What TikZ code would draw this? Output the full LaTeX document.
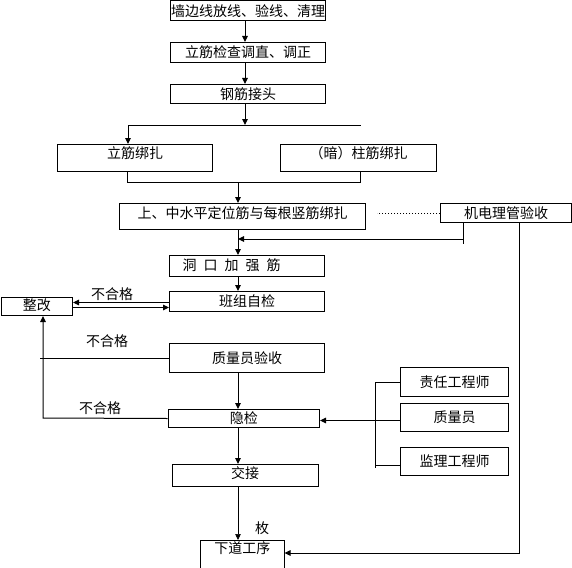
\documentclass[tikz,border=0pt]{standalone}
\usepackage{fontspec}
\newfontfamily\cjk{Noto Sans CJK SC}
\usetikzlibrary{arrows.meta}

\begin{document}
\begin{tikzpicture}[x=1pt,y=-1pt,line width=1pt,
 box/.style={draw,anchor=north west,inner sep=0pt,font=\cjk\fontsize{14}{14}\selectfont},
 wide/.style={minimum width=155pt},
 lbl/.style={inner sep=0pt,font=\cjk\fontsize{14}{14}\selectfont},
 arr/.style={-{Triangle[length=6pt,width=5.5pt]}}]
 \useasboundingbox (0,0) rectangle (572,567);
 \node[box,wide,text height=15.3pt,text depth=4.2pt] (wall) at (170,0.5) {墙边线放线、验线、清理};
 \node[box,wide,text height=15.3pt,text depth=4.7pt] (check) at (170,42) {立筋检查调直、调正};
 \node[box,wide,text height=15.3pt,text depth=3.7pt] (joint) at (170,84) {钢筋接头};
 \node[box,wide,text height=14.3pt,text depth=12.7pt] (li) at (57,144) {立筋绑扎};
 \node[box,minimum width=156pt,text height=14.3pt,text depth=12.7pt] (an) at (280,144) {（暗）柱筋绑扎};
 \node[box,minimum width=246pt,text height=15.3pt,text depth=10.7pt] (level) at (119,203) {上、中水平定位筋与每根竖筋绑扎};
 \node[box,minimum width=131pt,text height=15.3pt,text depth=3.7pt] (mep) at (440,203) {机电理管验收};
 \node[box,text width=155pt,align=left,text height=15.3pt,text depth=5.7pt] (hole) at (169,255)
  {\hspace*{13pt}洞\hspace{7pt}口\hspace{7pt}加\hspace{7pt}强\hspace{7pt}筋};
 \node[box,wide,text height=15.3pt,text depth=4.7pt] (self) at (169,291) {班组自检};
 \node[box,minimum width=71.5pt,text height=13.3pt,text depth=4.7pt] (fix) at (0.5,297) {整改};
 \node[box,wide,text height=20.3pt,text depth=8.7pt] (qc) at (169,343) {质量员验收};
 \node[box,minimum width=151.5pt,text height=14.3pt,text depth=3.7pt] (hidden) at (167.5,409) {隐检};
 \node[box,minimum width=108pt,text height=19.8pt,text depth=9.2pt] (resp) at (400,367) {责任工程师};
 \node[box,minimum width=108pt,text height=19.3pt,text depth=8.7pt] (qcm) at (400,403) {质量员};
 \node[box,minimum width=108pt,text height=19.3pt,text depth=8.7pt] (sup) at (400,447) {监理工程师};
 \node[box,minimum width=146pt,text height=14.3pt,text depth=7.7pt] (hand) at (171.5,464) {交接};
 \node[box,minimum width=83.5pt,text height=13.3pt,text depth=26.7pt] (next) at (200,540) {下道工序};
 \node[lbl] (ng1) at (112,294) {不合格};
 \node[lbl] (ng2) at (107,341) {不合格};
 \node[lbl] (ng3) at (100,408) {不合格};
 \node[lbl] (mark) at (262,528) {枚};
 \coordinate (splitL) at (128,125);
 \coordinate (splitR) at (361,125);
 \coordinate (joinL) at (127,182);
 \coordinate (joinR) at (360,182);
 \coordinate (joinM) at (238,182);
 \coordinate (feed) at (463,239);
 \coordinate (feedEnd) at (463,244);
 \coordinate (mepR) at (519,553);
 \coordinate (back) at (43,418);
 \coordinate (bus) at (375.5,381);
 \coordinate (busEnd) at (375.5,468);
 \draw[arr] ([xshift=-3pt]wall.south) -- ([xshift=-3pt]check.north);
 \draw[arr] ([xshift=-3pt]check.south) -- ([xshift=-3pt]joint.north);
 \draw[arr] ([xshift=-3pt]joint.south) -- ([xshift=-3pt]joint.south |- splitL);
 \draw (splitL) -- (splitR);
 \draw[arr] (splitL) -- (splitL |- li.north);
 \draw (joinL |- li.south) -- (joinL) -- (joinR) -- (joinR |- an.south);
 \draw[arr] (joinM) -- (joinM |- level.north);
 \draw[dotted] (mep.west) -- ([xshift=11pt]level.east |- mep.west);
 \draw (mep.south -| feed) -- (feedEnd);
 \draw[arr] (feed) -- (feed -| joinM);
 \draw[arr] (mep.south -| mepR) -- (mepR) -- (next.east |- mepR);
 \draw[arr] (joinM |- level.south) -- (joinM |- hole.north);
 \draw[arr] (joinM |- hole.south) -- (joinM |- self.north);
 \draw[arr] ([yshift=-1pt]self.west) -- ([yshift=-1pt]self.west -| fix.east);
 \draw[arr] ([yshift=-6pt]self.west -| fix.east) -- ([yshift=-6pt]self.west);
 \draw (qc.west) -- ([xshift=-3pt]qc.west -| back);
 \draw[arr] (joinM |- qc.south) -- (joinM |- hidden.north);
 \draw[arr] (hidden.west) -- (back) -- (back |- fix.south);
 \draw (resp.west) -- (resp.west -| bus) -- (busEnd);
 \draw ([yshift=-4pt]sup.west -| bus) -- ([yshift=-4pt]sup.west);
 \draw[arr] ([yshift=-3pt]qcm.west) -- ([yshift=-3pt]qcm.west -| hidden.east);
 \draw[arr] (joinM |- hidden.south) -- (joinM |- hand.north);
 \draw[arr,line width=.6pt] (joinM |- hand.south) -- (joinM |- next.north);
\end{tikzpicture}
\end{document}
